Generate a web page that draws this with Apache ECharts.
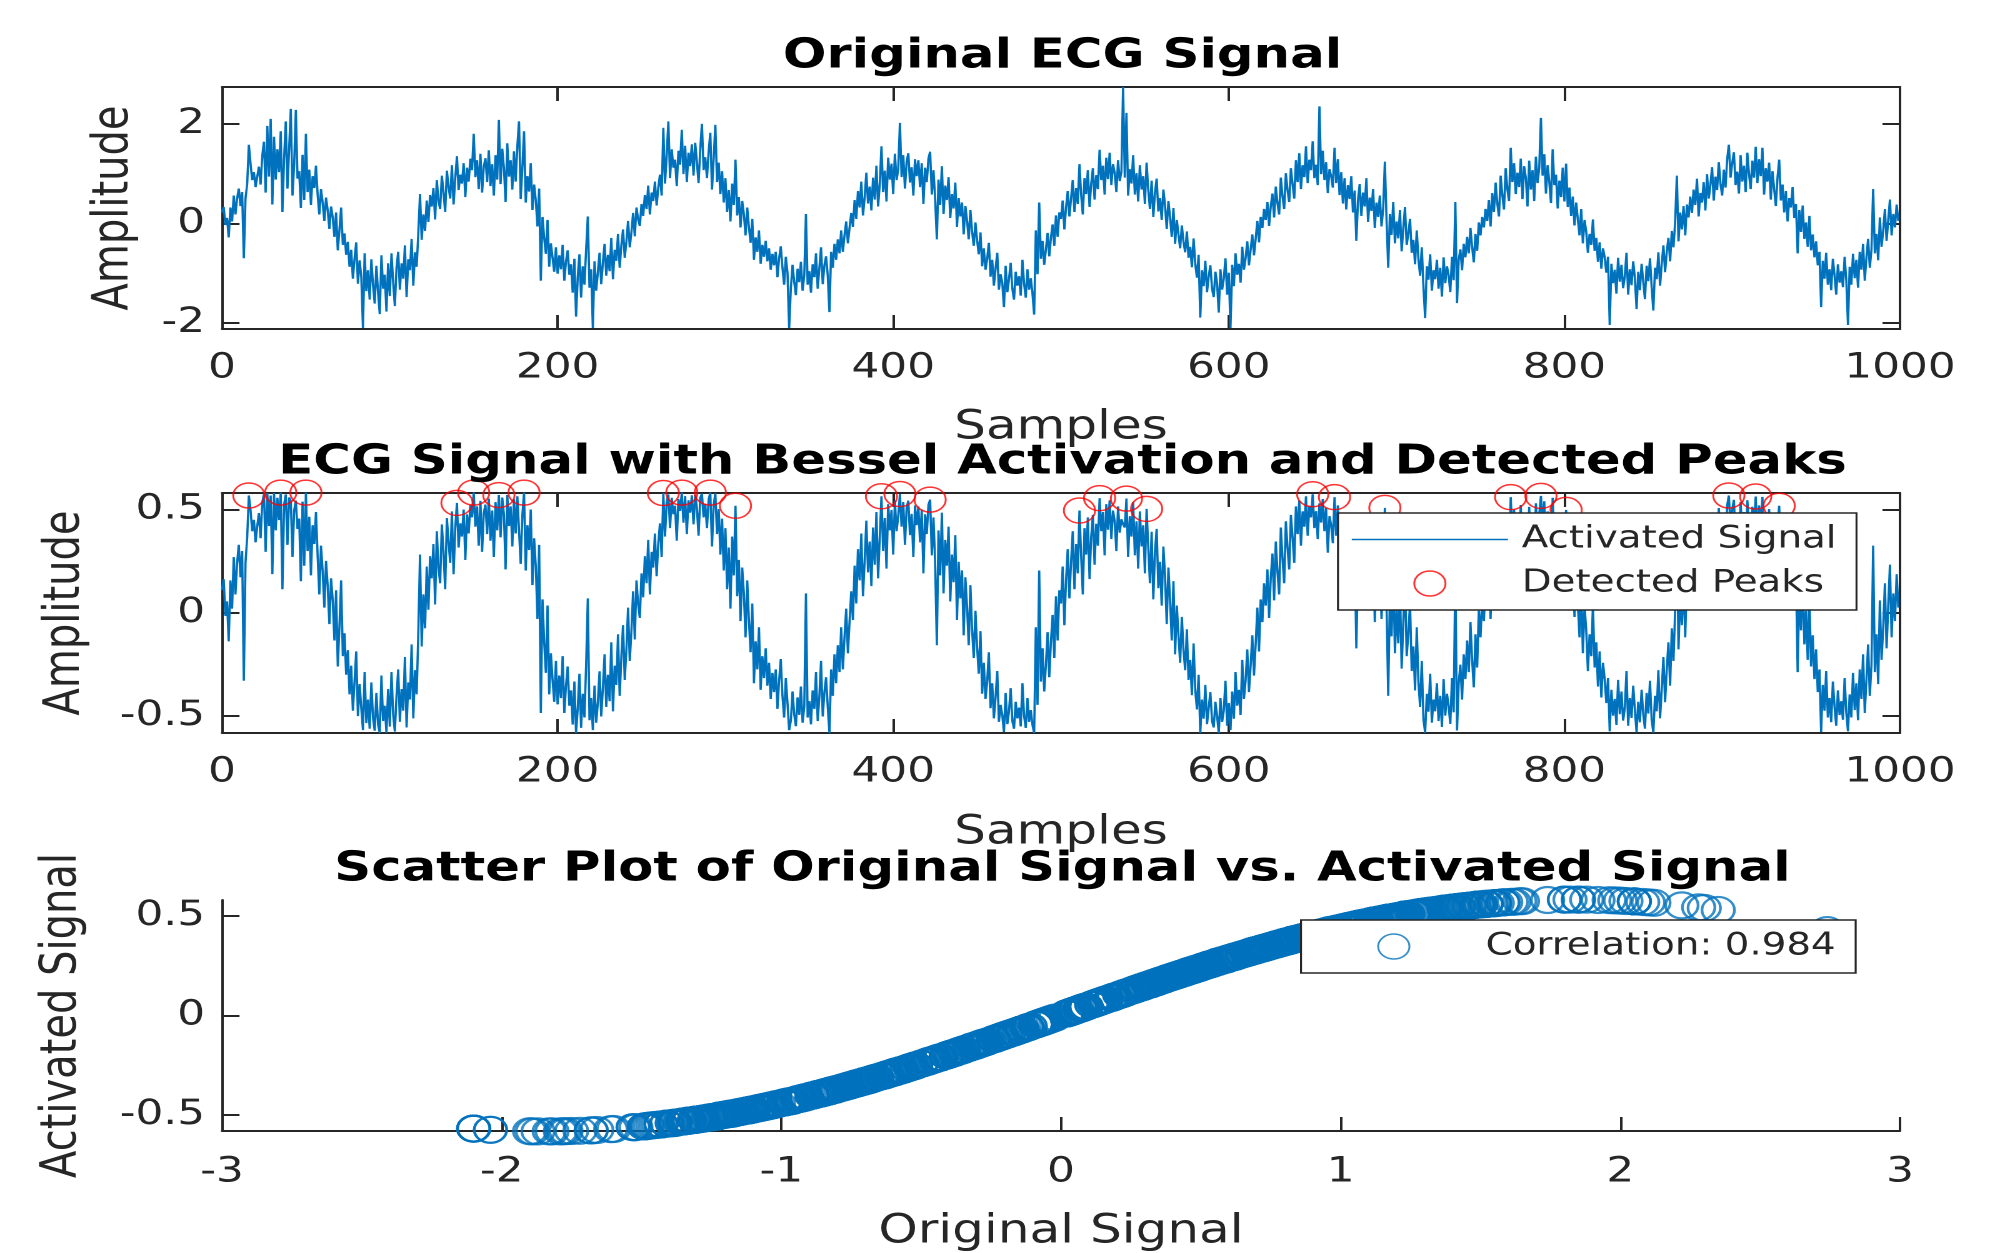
<!DOCTYPE html>
<html>
<head>
<meta charset="utf-8">
<script src="https://cdn.jsdelivr.net/npm/echarts@6.0.0/dist/echarts.min.js"></script>
<style>
html,body{margin:0;padding:0;background:#ffffff;overflow:hidden;width:2010px;height:1253px;}
#wrap{width:2010px;height:1253px;overflow:hidden;position:relative;}
#chart{width:1608px;height:1253px;transform:scaleX(1.25);transform-origin:0 0;}
</style>
</head>
<body>
<div id="wrap"><div id="chart"></div></div>
<script>
// ---------------- data ----------------
const titles = [
  'Original ECG Signal',
  'ECG Signal with Bessel Activation and Detected Peaks',
  'Scatter Plot of Original Signal vs. Activated Signal'
];
const xLabelSamples = 'Samples';
const yLabelAmplitude = 'Amplitude';
const xLabelScatter = 'Original Signal';
const yLabelScatter = 'Activated Signal';
const legendActivated = 'Activated Signal';
const legendPeaks = 'Detected Peaks';
const legendCorrelation = 'Correlation: 0.984';

const ticksOriginal = [-2, 0, 2];
const ticksActivated = [-0.5, 0, 0.5];

// original ECG signal, samples 0..999
const originalSignal = [
0.22,0.33,-0.03,0.11,-0.28,0.32,0.04,0.56,0.18,0.50,0.70,0.35,0.63,-0.70,0.50,0.79,1.58,1.20,0.87,1.03,0.73,0.94,1.14,0.78,1.36,
1.64,0.62,1.96,0.94,2.10,0.38,1.74,0.88,1.49,1.03,1.85,0.23,1.31,2.05,0.70,1.50,2.30,0.56,1.19,2.28,0.90,1.05,0.31,1.38,0.47,
1.80,0.63,1.08,0.37,0.95,0.71,1.16,0.57,0.18,0.69,0.41,0.05,0.52,0.26,-0.11,0.34,0.12,-0.27,0.22,-0.54,-0.12,0.32,-0.43,-0.20,-0.63,
-0.37,-0.87,-0.53,-1.11,-0.70,-0.38,-1.21,-0.74,-1.07,-2.10,-0.60,-1.36,-0.94,-1.53,-0.72,-1.24,-1.61,-0.85,-1.38,-1.82,-0.64,-1.31,-1.03,-1.77,-0.80,
-1.46,-0.60,-1.18,-1.66,-0.89,-0.57,-1.33,-0.80,-1.11,-0.44,-1.48,-0.72,-0.94,-0.31,-1.25,-0.58,-0.87,-0.19,0.59,-0.33,0.18,-0.15,0.46,0.03,0.57,
0.34,0.71,0.08,0.87,0.45,0.29,0.96,0.62,0.23,1.06,0.74,0.50,1.17,0.38,0.91,1.35,0.67,0.98,0.80,1.21,0.53,1.12,0.84,1.30,1.07,
1.80,0.93,1.27,0.69,1.40,0.62,1.14,1.31,0.83,1.47,0.75,1.19,0.56,1.37,0.88,2.08,0.79,1.50,1.12,0.43,1.61,0.94,1.27,0.68,1.45,
0.84,1.55,2.05,0.49,1.11,1.85,0.42,0.95,0.64,1.21,0.27,0.78,0.46,-0.06,0.70,-1.15,0.13,-0.29,-0.61,0.07,-0.87,-0.40,-0.69,-0.97,-0.48,
-1.01,-0.64,-0.92,-0.43,-1.15,-0.76,-0.54,-1.03,-0.82,-1.39,-0.71,-1.87,-1.08,-0.62,-1.49,-0.86,-1.23,-0.52,0.14,-1.29,-0.92,-2.10,-0.76,-1.35,-0.98,
-0.59,-1.22,-0.78,-0.41,-1.05,-0.63,-0.96,-0.29,-1.12,-0.53,-0.75,-0.21,-0.89,-0.43,-0.12,-0.69,-0.36,0.05,-0.48,-0.17,0.21,-0.26,0.32,0.08,-0.05,
0.39,0.15,0.57,0.29,0.76,0.18,0.62,0.45,0.84,0.36,0.72,0.98,0.56,1.92,0.80,1.37,2.05,0.91,1.49,1.12,1.28,0.75,1.46,1.18,1.88,
0.99,1.56,0.83,1.42,1.15,1.59,0.96,1.62,1.23,0.81,1.49,2.00,1.07,1.33,0.91,1.44,1.82,0.68,1.30,1.98,0.83,1.22,0.59,1.05,0.42,
0.91,0.23,0.67,0.04,0.80,0.37,1.28,0.16,0.53,-0.08,0.45,0.19,-0.24,0.32,-0.07,-0.39,0.09,-0.73,-0.28,-0.57,-0.14,-0.81,-0.43,-0.67,-0.35,
-0.76,-0.50,-0.93,-0.61,-0.84,-0.57,-1.08,-0.70,-0.46,-0.89,-1.23,-0.67,-0.99,-2.10,-1.30,-0.83,-1.17,-1.44,-0.91,-1.18,-0.77,-1.35,-1.04,0.19,-1.23,
-0.96,-1.39,-0.82,-1.08,-0.60,-1.31,-0.89,-0.48,-1.22,-0.84,-0.66,-1.05,-1.78,-0.57,-0.89,-0.41,-0.73,-0.32,-0.60,-0.14,-0.57,-0.23,0.04,-0.40,-0.08,
0.21,-0.07,0.47,0.09,0.65,0.32,0.84,0.16,0.53,1.02,0.40,0.74,0.26,0.92,0.48,1.16,0.34,0.80,1.55,0.63,1.06,0.44,1.32,0.88,1.20,
0.59,1.40,0.87,1.09,2.02,0.93,1.37,0.70,1.24,1.41,0.82,1.13,0.56,1.29,0.95,1.27,0.73,1.21,0.39,1.12,0.83,1.30,1.44,0.58,1.07,
0.49,-0.32,0.88,0.37,1.15,0.19,0.76,0.47,0.93,0.11,0.59,0.30,0.82,-0.07,0.51,0.14,0.42,-0.22,0.35,0.06,-0.32,0.27,-0.16,-0.45,0.02,
-0.34,-0.62,-0.18,-0.86,-0.50,-0.93,-0.71,-0.39,-1.07,-0.73,-1.25,-0.91,-0.59,-1.33,-1.02,-1.19,-1.68,-0.85,-1.38,-1.12,-0.79,-1.31,-1.53,-0.97,-1.25,
-1.06,-1.45,-0.73,-1.21,-1.49,-0.92,-1.33,-1.10,-1.41,-1.83,-0.14,-1.02,0.42,-0.71,-0.35,-0.83,-0.52,-0.19,-0.66,-0.28,-0.02,-0.45,0.16,-0.27,0.22,
0.09,0.46,-0.12,0.32,0.65,0.14,0.51,0.87,0.23,0.71,0.39,1.19,0.57,0.18,0.91,0.59,1.07,0.33,0.80,1.11,0.48,0.97,0.69,1.48,0.87,
1.16,0.58,1.32,0.89,1.42,0.77,1.19,1.01,0.63,1.27,0.85,1.04,2.74,0.92,2.22,0.56,1.09,0.80,1.37,0.58,1.01,0.44,1.17,0.68,0.95,
0.39,1.22,0.67,0.29,0.86,0.13,0.62,0.90,0.24,0.51,0.07,0.68,0.36,-0.11,0.45,0.12,-0.27,0.31,-0.41,0.07,-0.22,-0.50,-0.04,-0.37,-0.58,
-0.16,-0.69,-0.47,-0.88,-0.30,-0.81,-1.09,-0.63,-1.89,-0.94,-1.26,-0.75,-1.38,-1.07,-0.84,-1.31,-1.48,-0.97,-1.20,-1.79,-0.92,-1.33,-1.11,-0.70,-1.43,
-0.99,-2.10,-0.83,-1.26,-0.60,-1.03,-0.81,-1.19,-0.47,-0.93,-0.70,-0.36,-0.84,-0.53,-0.22,-0.64,-0.31,0.05,-0.38,0.13,-0.09,0.29,0.07,0.43,-0.05,
0.34,0.60,0.12,0.74,0.41,0.18,0.92,0.55,0.29,1.01,0.67,0.43,1.11,0.79,0.50,1.27,0.83,1.41,0.69,1.17,0.93,1.55,0.81,1.28,1.07,
1.65,0.91,1.18,0.77,2.35,0.99,1.46,0.87,1.23,0.61,1.09,0.95,0.72,1.52,0.81,1.29,0.57,1.03,0.40,0.91,0.28,0.77,0.49,0.95,0.22,
0.66,-0.35,0.47,0.79,0.15,0.62,0.34,0.91,0.03,0.52,0.25,0.69,-0.09,0.42,0.13,0.56,-0.06,0.30,1.24,0.08,-0.89,0.19,-0.23,0.43,-0.40,
0.04,-0.30,0.27,-0.56,-0.09,0.33,-0.43,-0.20,0.09,-0.59,-0.33,-0.82,-0.14,-0.71,-1.05,-0.48,-1.27,-1.90,-0.86,-1.13,-0.62,-1.35,-0.94,-1.12,-0.73,
-1.31,-0.89,-1.47,-0.68,-1.20,-0.86,-1.04,-1.38,-0.67,-1.14,0.43,-1.60,-0.73,-0.52,-0.94,-0.41,-0.68,-0.27,-0.60,-0.09,-0.47,-0.78,-0.21,-0.55,0.02,
-0.24,0.13,-0.08,0.29,0.05,0.47,-0.06,0.61,0.23,0.82,0.40,0.14,0.96,0.57,0.28,1.11,0.69,0.45,1.52,0.83,1.21,0.59,1.02,0.73,1.30,
0.49,1.15,0.92,0.34,1.26,0.68,1.07,0.45,1.34,0.81,1.12,2.12,0.96,1.39,0.60,1.17,0.83,0.41,1.49,0.77,0.98,0.30,0.86,0.53,1.12,
0.44,1.20,0.33,0.72,0.15,0.54,-0.04,0.42,0.08,-0.24,0.29,-0.40,0.07,-0.17,-0.59,-0.21,-0.43,0.08,-0.55,-0.29,-0.77,-0.38,-0.91,-0.50,-0.68,
-0.99,-0.67,-2.04,-0.81,-1.20,-0.93,-1.41,-0.69,-1.17,-0.83,-1.30,-1.06,-0.59,-1.43,-0.92,-1.24,-0.76,-1.10,-1.72,-0.97,-1.34,-0.81,-1.18,-1.52,-0.85,
-1.16,-0.70,-1.28,-1.75,-0.89,-1.12,-0.58,-1.25,-0.81,-0.44,-0.98,-0.57,-0.29,-0.76,-0.15,-0.48,0.03,0.96,-0.36,0.22,-0.12,0.35,-0.24,0.38,0.12,
0.54,0.21,0.68,0.37,0.90,0.14,0.61,0.42,0.83,0.26,0.99,0.50,0.77,1.13,0.46,0.94,0.67,1.23,0.80,0.56,1.08,0.72,1.29,1.58,0.92,
1.21,1.43,0.77,1.04,0.60,1.37,0.84,1.16,0.63,1.42,1.00,0.69,1.26,0.92,1.54,0.81,1.29,0.95,1.52,0.58,1.11,0.84,1.22,0.48,1.05,
0.69,0.35,0.92,1.28,0.46,0.78,0.22,0.65,0.04,0.51,0.32,0.73,0.11,0.39,-0.60,0.27,-0.17,0.36,-0.31,0.02,-0.47,0.15,-0.54,-0.22,-0.68,
-0.36,-0.84,-0.57,-1.68,-0.75,-1.11,-0.59,-1.23,-0.92,-1.34,-0.71,-1.05,-1.43,-0.82,-1.19,-0.96,-1.28,-0.67,-1.15,-2.04,-0.87,-1.23,-0.61,-1.10,-0.73,
-1.29,-0.57,-0.93,-0.41,-1.15,-0.68,-0.31,-0.89,-0.52,0.69,-0.60,-0.21,-0.74,0.12,-0.47,-0.14,0.29,-0.35,0.07,0.48,-0.24,0.19,-0.08,0.38,0.05
];

// Bessel-activated signal, samples 0..999
const activatedSignal = [
0.109,0.163,-0.015,0.055,-0.138,0.157,0.020,0.270,0.089,0.242,0.329,0.172,0.299,-0.329,0.242,0.365,0.568,0.498,0.395,0.450,0.341,0.420,0.483,0.361,0.534,
0.574,0.295,0.579,0.420,0.568,0.187,0.580,0.399,0.557,0.449,0.582,0.114,0.524,0.573,0.329,0.558,0.540,0.270,0.495,0.543,0.406,0.456,0.153,0.538,0.228,
0.582,0.299,0.465,0.181,0.424,0.333,0.488,0.274,0.089,0.325,0.200,0.025,0.251,0.128,-0.055,0.167,0.060,-0.134,0.109,-0.260,-0.060,0.157,-0.210,-0.099,-0.300,
-0.181,-0.395,-0.256,-0.474,-0.329,-0.187,-0.500,-0.345,-0.462,-0.568,-0.287,-0.534,-0.420,-0.561,-0.337,-0.509,-0.571,-0.388,-0.539,-0.582,-0.304,-0.524,-0.450,-0.581,-0.369,
-0.551,-0.287,-0.492,-0.575,-0.402,-0.274,-0.528,-0.369,-0.474,-0.214,-0.555,-0.337,-0.420,-0.153,-0.511,-0.278,-0.395,-0.094,0.282,-0.163,0.089,-0.075,0.224,0.015,0.274,
0.167,0.333,0.040,0.395,0.219,0.143,0.428,0.295,0.114,0.459,0.345,0.242,0.491,0.187,0.410,0.532,0.316,0.433,0.369,0.500,0.256,0.477,0.384,0.522,0.462,
0.582,0.417,0.515,0.325,0.542,0.295,0.482,0.524,0.381,0.553,0.349,0.495,0.270,0.536,0.399,0.570,0.365,0.558,0.477,0.210,0.571,0.420,0.515,0.321,0.550,
0.384,0.564,0.573,0.237,0.474,0.582,0.205,0.424,0.304,0.500,0.134,0.361,0.224,-0.030,0.329,-0.485,0.065,-0.143,-0.291,0.035,-0.395,-0.196,-0.325,-0.431,-0.233,
-0.443,-0.304,-0.413,-0.210,-0.485,-0.353,-0.260,-0.450,-0.376,-0.541,-0.333,-0.582,-0.465,-0.295,-0.557,-0.392,-0.507,-0.251,0.070,-0.520,-0.413,-0.568,-0.353,-0.532,-0.433,
-0.283,-0.502,-0.361,-0.201,-0.456,-0.300,-0.428,-0.143,-0.477,-0.256,-0.349,-0.104,-0.402,-0.210,-0.060,-0.325,-0.177,0.025,-0.233,-0.085,0.104,-0.129,0.157,0.040,-0.025,
0.191,0.075,0.274,0.143,0.353,0.089,0.295,0.219,0.384,0.177,0.337,0.433,0.270,0.580,0.369,0.536,0.573,0.410,0.557,0.477,0.518,0.349,0.551,0.493,0.582,
0.436,0.565,0.381,0.545,0.485,0.569,0.428,0.571,0.507,0.373,0.557,0.577,0.462,0.528,0.410,0.549,0.582,0.321,0.522,0.578,0.381,0.502,0.282,0.456,0.205,
0.410,0.114,0.316,0.020,0.369,0.181,0.518,0.080,0.256,-0.040,0.219,0.094,-0.119,0.157,-0.035,-0.191,0.045,-0.341,-0.138,-0.274,-0.070,-0.373,-0.210,-0.316,-0.172,
-0.353,-0.242,-0.417,-0.291,-0.384,-0.274,-0.465,-0.329,-0.224,-0.402,-0.507,-0.316,-0.437,-0.568,-0.522,-0.381,-0.491,-0.549,-0.410,-0.494,-0.357,-0.532,-0.453,0.094,-0.507,
-0.428,-0.540,-0.376,-0.465,-0.287,-0.524,-0.402,-0.233,-0.502,-0.384,-0.312,-0.456,-0.581,-0.274,-0.402,-0.201,-0.341,-0.157,-0.287,-0.070,-0.274,-0.114,0.020,-0.196,-0.040,
0.104,-0.035,0.228,0.045,0.308,0.157,0.384,0.080,0.256,0.446,0.196,0.345,0.129,0.413,0.233,0.488,0.167,0.369,0.564,0.299,0.459,0.214,0.526,0.399,0.498,
0.282,0.542,0.395,0.468,0.575,0.417,0.536,0.329,0.509,0.543,0.376,0.479,0.270,0.520,0.424,0.515,0.341,0.500,0.191,0.477,0.381,0.522,0.548,0.278,0.462,
0.237,-0.157,0.399,0.181,0.485,0.094,0.353,0.228,0.417,0.055,0.282,0.148,0.376,-0.035,0.247,0.070,0.205,-0.109,0.172,0.030,-0.157,0.134,-0.080,-0.219,0.010,
-0.167,-0.295,-0.089,-0.392,-0.242,-0.417,-0.333,-0.191,-0.462,-0.341,-0.511,-0.410,-0.282,-0.528,-0.446,-0.495,-0.577,-0.388,-0.539,-0.477,-0.365,-0.524,-0.561,-0.431,-0.511,
-0.459,-0.550,-0.341,-0.500,-0.557,-0.413,-0.528,-0.471,-0.543,-0.582,-0.070,-0.446,0.205,-0.333,-0.172,-0.381,-0.251,-0.094,-0.312,-0.138,-0.010,-0.219,0.080,-0.134,0.109,
0.045,0.224,-0.060,0.157,0.308,0.070,0.247,0.395,0.114,0.333,0.191,0.495,0.274,0.089,0.410,0.282,0.462,0.163,0.369,0.474,0.233,0.431,0.325,0.555,0.395,
0.488,0.278,0.526,0.402,0.545,0.357,0.495,0.443,0.299,0.515,0.388,0.453,0.429,0.413,0.553,0.270,0.468,0.369,0.536,0.278,0.443,0.214,0.491,0.321,0.424,
0.191,0.503,0.316,0.143,0.392,0.065,0.295,0.406,0.119,0.247,0.035,0.321,0.177,-0.055,0.219,0.060,-0.134,0.153,-0.201,0.035,-0.109,-0.242,-0.020,-0.181,-0.278,
-0.080,-0.325,-0.228,-0.399,-0.148,-0.373,-0.468,-0.300,-0.582,-0.420,-0.513,-0.349,-0.539,-0.462,-0.384,-0.524,-0.555,-0.431,-0.498,-0.582,-0.413,-0.528,-0.474,-0.329,-0.547,
-0.437,-0.568,-0.381,-0.513,-0.287,-0.450,-0.373,-0.495,-0.228,-0.417,-0.329,-0.177,-0.384,-0.256,-0.109,-0.304,-0.153,0.025,-0.187,0.065,-0.045,0.143,0.035,0.210,-0.025,
0.167,0.287,0.060,0.345,0.201,0.089,0.413,0.265,0.143,0.443,0.316,0.210,0.474,0.365,0.242,0.515,0.381,0.543,0.325,0.491,0.417,0.564,0.373,0.518,0.462,
0.574,0.410,0.492,0.357,0.530,0.437,0.551,0.395,0.507,0.291,0.468,0.424,0.337,0.560,0.373,0.520,0.274,0.450,0.196,0.410,0.139,0.357,0.237,0.424,0.109,
0.312,-0.172,0.228,0.365,0.075,0.295,0.167,0.410,0.015,0.251,0.124,0.325,-0.045,0.205,0.065,0.270,-0.030,0.148,0.508,0.040,-0.402,0.094,-0.114,0.210,-0.196,
0.020,-0.148,0.134,-0.270,-0.045,0.163,-0.210,-0.099,0.045,-0.282,-0.163,-0.376,-0.070,-0.333,-0.456,-0.233,-0.515,-0.581,-0.392,-0.479,-0.295,-0.532,-0.420,-0.477,-0.341,
-0.524,-0.402,-0.553,-0.321,-0.498,-0.392,-0.453,-0.538,-0.316,-0.482,0.210,-0.570,-0.341,-0.251,-0.420,-0.201,-0.321,-0.134,-0.287,-0.045,-0.228,-0.361,-0.104,-0.265,0.010,
-0.119,0.065,-0.040,0.143,0.025,0.228,-0.030,0.291,0.114,0.376,0.196,0.070,0.428,0.274,0.138,0.474,0.325,0.219,0.560,0.381,0.500,0.282,0.446,0.341,0.522,
0.237,0.485,0.413,0.167,0.513,0.321,0.462,0.219,0.530,0.373,0.477,0.566,0.428,0.540,0.287,0.491,0.381,0.201,0.557,0.357,0.433,0.148,0.392,0.256,0.477,
0.214,0.498,0.163,0.337,0.075,0.260,-0.020,0.205,0.040,-0.119,0.143,-0.196,0.035,-0.085,-0.282,-0.104,-0.210,0.040,-0.265,-0.143,-0.357,-0.187,-0.410,-0.242,-0.321,
-0.437,-0.316,-0.574,-0.373,-0.498,-0.417,-0.543,-0.325,-0.491,-0.381,-0.522,-0.459,-0.282,-0.547,-0.413,-0.509,-0.353,-0.471,-0.579,-0.431,-0.530,-0.373,-0.494,-0.561,-0.388,
-0.488,-0.329,-0.518,-0.580,-0.402,-0.477,-0.278,-0.511,-0.373,-0.214,-0.433,-0.274,-0.143,-0.353,-0.075,-0.233,0.015,0.428,-0.177,0.109,-0.060,0.172,-0.119,0.187,0.060,
0.260,0.104,0.321,0.181,0.406,0.070,0.291,0.205,0.381,0.129,0.437,0.242,0.357,0.479,0.224,0.420,0.316,0.507,0.369,0.270,0.465,0.337,0.520,0.568,0.413,
0.500,0.547,0.357,0.453,0.287,0.536,0.384,0.488,0.299,0.545,0.440,0.325,0.513,0.413,0.563,0.373,0.520,0.424,0.561,0.278,0.474,0.384,0.502,0.233,0.456,
0.325,0.172,0.413,0.518,0.224,0.361,0.109,0.308,0.020,0.247,0.157,0.341,0.055,0.191,-0.287,0.134,-0.085,0.177,-0.153,0.010,-0.228,0.075,-0.260,-0.109,-0.321,
-0.177,-0.384,-0.274,-0.577,-0.349,-0.474,-0.282,-0.507,-0.413,-0.530,-0.333,-0.456,-0.547,-0.376,-0.495,-0.428,-0.518,-0.316,-0.485,-0.574,-0.395,-0.507,-0.291,-0.471,-0.341,
-0.520,-0.274,-0.417,-0.201,-0.485,-0.321,-0.153,-0.402,-0.251,0.325,-0.287,-0.104,-0.345,0.060,-0.228,-0.070,0.143,-0.172,0.035,0.233,-0.119,0.094,-0.040,0.187,0.025
];

// sample numbers where peaks were detected
const peakSamples = [16,35,50,140,150,165,180,263,274,291,306,393,404,422,511,523,539,551,650,663,693,768,786,801,898,914,928];

// ---------------- chart ----------------
const FONT = 'DejaVu Sans';
const AX = '#262626';
const BLUE = '#0072BD';
const RED = '#FF0000';
const axisLineStyle = { color: AX, width: 2 };
const plainNumber = v => String(v);

const grids = [
  { left: 177.6, right: 88, top: 87, height: 242 },
  { left: 177.6, right: 88, top: 493, height: 240 },
  { left: 177.6, right: 88, top: 900, height: 239 }
];

function xBottom(gi, min, max, interval, name, nameGap, labelMargin) {
  return {
    type: 'value', gridIndex: gi, position: 'bottom', min: min, max: max, interval: interval,
    name: name, nameLocation: 'middle', nameGap: nameGap,
    nameTextStyle: { fontFamily: FONT, fontSize: 40, color: AX },
    axisLine: { show: true, onZero: false, lineStyle: axisLineStyle },
    axisTick: { show: true, inside: true, length: 14, lineStyle: axisLineStyle },
    axisLabel: { show: true, margin: labelMargin, formatter: plainNumber, fontFamily: FONT, fontSize: 35, color: AX },
    splitLine: { show: false }
  };
}
function xTop(gi, min, max, interval) {
  return {
    type: 'value', gridIndex: gi, position: 'top', min: min, max: max, interval: interval,
    axisLine: { show: true, onZero: false, lineStyle: axisLineStyle },
    axisTick: { show: true, inside: true, length: 14, lineStyle: axisLineStyle },
    axisLabel: { show: false }, splitLine: { show: false }
  };
}
function yLeft(gi, min, max, ticks, name, nameGap) {
  return {
    type: 'value', gridIndex: gi, position: 'left', min: min, max: max,
    name: name, nameLocation: 'middle', nameGap: nameGap,
    nameTextStyle: { fontFamily: FONT, fontSize: 40, color: AX },
    axisLine: { show: true, onZero: false, lineStyle: axisLineStyle },
    axisTick: { show: true, inside: true, length: 14, customValues: ticks, lineStyle: axisLineStyle },
    axisLabel: { show: true, margin: 13.6, customValues: ticks, formatter: plainNumber, fontFamily: FONT, fontSize: 35, color: AX },
    splitLine: { show: false }
  };
}
function yRight(gi, min, max, ticks) {
  return {
    type: 'value', gridIndex: gi, position: 'right', min: min, max: max,
    axisLine: { show: true, onZero: false, lineStyle: axisLineStyle },
    axisTick: { show: true, inside: true, length: 14, customValues: ticks, lineStyle: axisLineStyle },
    axisLabel: { show: false, customValues: ticks }, splitLine: { show: false }
  };
}

const titleStyle = { fontFamily: FONT, fontSize: 41, fontWeight: 'bold', color: '#000000' };
const legendBase = {
  orient: 'vertical', itemWidth: 125, itemHeight: 25, itemGap: 13,
  borderColor: AX, borderWidth: 1.6, borderRadius: 0,
  backgroundColor: '#ffffff', selectedMode: false, symbolKeepAspect: true,
  textStyle: { fontFamily: FONT, fontSize: 31, color: AX, padding: [0, 0, 0, 6] }
};

const option = {
  animation: false,
  backgroundColor: '#ffffff',
  title: titles.map((t, k) => ({
    text: t, left: 850, top: [57, 463, 870][k], textAlign: 'center', textVerticalAlign: 'middle',
    padding: 0, textStyle: titleStyle
  })),
  grid: grids,
  xAxis: [
    xBottom(0, 0, 1000, 200, xLabelSamples, 79, 22),
    xTop(0, 0, 1000, 200),
    xBottom(1, 0, 1000, 200, xLabelSamples, 80, 22),
    xTop(1, 0, 1000, 200),
    xBottom(2, -3, 3, 1, xLabelScatter, 81, 24)
  ],
  yAxis: [
    yLeft(0, -2.12, 2.74, ticksOriginal, yLabelAmplitude, 66),
    yRight(0, -2.12, 2.74, ticksOriginal),
    yLeft(1, -0.582, 0.58, ticksActivated, yLabelAmplitude, 105),
    yRight(1, -0.582, 0.58, ticksActivated),
    yLeft(2, -0.58, 0.58, ticksActivated, yLabelScatter, 107.5)
  ],
  legend: [
    Object.assign({}, legendBase, {
      left: 1070.4, top: 513, padding: [11, 16, 11, 11],
      data: [
        { name: legendActivated, icon: 'path://M0,0L125,0L125,1.6L0,1.6Z',
          itemStyle: { color: BLUE, borderWidth: 0 } },
        { name: legendPeaks, icon: 'circle',
          itemStyle: { color: 'rgba(0,0,0,0)', borderColor: RED, borderWidth: 1.5 } }
      ]
    }),
    Object.assign({}, legendBase, {
      left: 1040.8, top: 920, padding: [11, 16, 11, 61],
      data: [
        { name: legendCorrelation, icon: 'circle',
          itemStyle: { color: 'rgba(0,0,0,0)', borderColor: BLUE, borderWidth: 1.5 } }
      ]
    })
  ],
  series: [
    {
      type: 'line', name: 'Original ECG', xAxisIndex: 0, yAxisIndex: 0,
      data: originalSignal.map((v, i) => [i, v]),
      symbol: 'none', lineStyle: { color: BLUE, width: 1.8 }, itemStyle: { color: BLUE },
      silent: true
    },
    {
      type: 'line', name: legendActivated, xAxisIndex: 2, yAxisIndex: 2,
      data: activatedSignal.map((v, i) => [i, v]),
      symbol: 'none', lineStyle: { color: BLUE, width: 1.8 }, itemStyle: { color: BLUE },
      silent: true
    },
    {
      type: 'scatter', name: legendPeaks, xAxisIndex: 2, yAxisIndex: 2,
      data: peakSamples.map(s => [s, activatedSignal[s]]),
      symbol: 'circle', symbolSize: 25, clip: false, z: 3,
      itemStyle: { color: 'rgba(0,0,0,0)', borderColor: RED, borderWidth: 1.5 },
      silent: true
    },
    {
      type: 'scatter', name: legendCorrelation, xAxisIndex: 4, yAxisIndex: 4,
      data: originalSignal.map((v, i) => [v, activatedSignal[i]]),
      symbol: 'circle', symbolSize: 26, clip: false, large: false, progressive: 0,
      itemStyle: { color: 'rgba(0,0,0,0)', borderColor: BLUE, borderWidth: 2.2 },
      silent: true
    }
  ]
};

const chart = echarts.init(document.getElementById('chart'), null, { devicePixelRatio: 2 });
chart.setOption(option);
</script>
</body>
</html>
